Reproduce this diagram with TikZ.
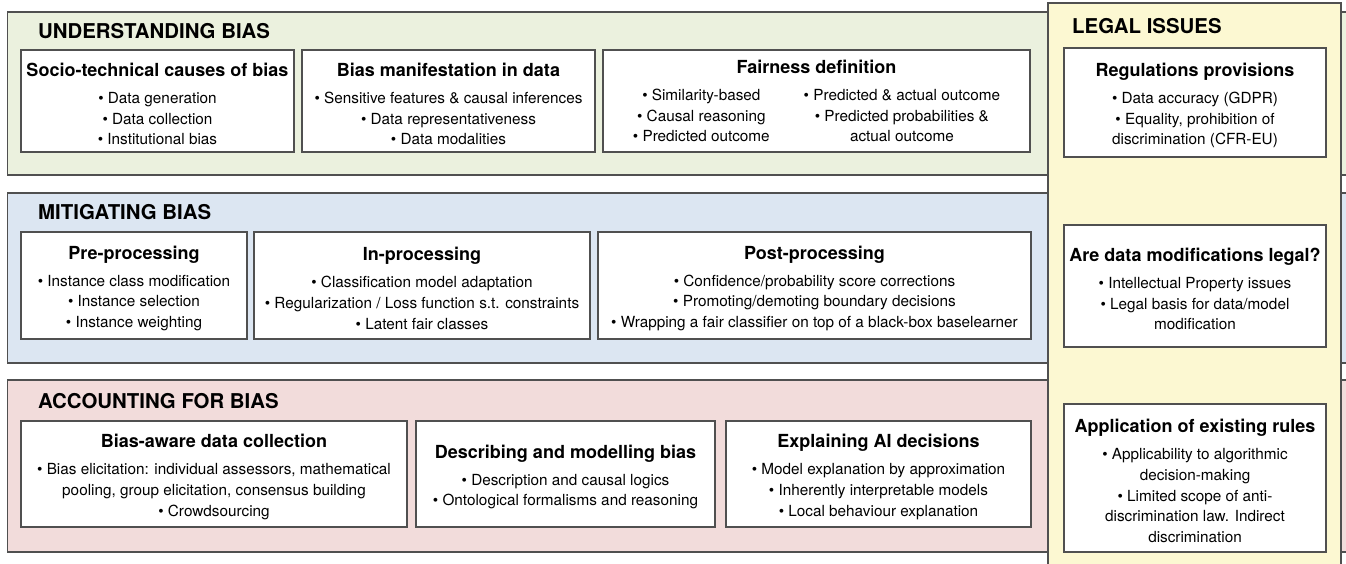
\documentclass[tikz,border=0pt]{standalone}
\usepackage{fontspec}
\setmainfont{TeX Gyre Heros}
\definecolor{undfill}{HTML}{EBF1DE}
\definecolor{mitfill}{HTML}{DCE6F2}
\definecolor{accfill}{HTML}{F2DCDB}
\definecolor{legfill}{HTML}{FCF8D2}
\definecolor{edgegray}{HTML}{505050}
\newcommand{\boxhead}[1]{{\bfseries\fontsize{18}{22}\selectfont\rule{0pt}{19.5pt}#1}\\[6pt]}
\begin{document}
\begin{tikzpicture}[x=1pt,y=-1pt,
  band/.style={draw=edgegray,line width=1.3pt},
  bandtitle/.style={anchor=west,inner sep=0pt,font=\bfseries\fontsize{20.4}{24}\selectfont},
  topic/.style={draw=edgegray,fill=white,line width=1.1pt,align=center,inner sep=0pt,
    font=\fontsize{15.3}{20.8}\selectfont}]
 \useasboundingbox (0,0) rectangle (1346,564);
 \clip (0,0) rectangle (1346,564);
 \draw[band,fill=undfill] (7.5,12) rectangle (1360,175);
 \draw[band,fill=mitfill] (7.5,193) rectangle (1360,363);
 \draw[band,fill=accfill] (7.5,380) rectangle (1360,552);
 \draw[band,fill=legfill] (1048,3) rectangle (1341,580);
 \node[bandtitle] (understanding) at (38,31) {UNDERSTANDING BIAS};
 \node[bandtitle] (mitigating) at (38,212) {MITIGATING BIAS};
 \node[bandtitle] (accounting) at (38,401) {ACCOUNTING FOR BIAS};
 \node[bandtitle] (legal) at (1072,26) {LEGAL ISSUES};
 \node[topic,minimum width=273,minimum height=102] (causes) at (157.5,101)
  {\boxhead{Socio-technical causes of bias}\textbullet\ Data generation\\\textbullet\ Data collection\\\textbullet\ Institutional bias};
 \node[topic,minimum width=293,minimum height=102] (manifest) at (448.5,101)
  {\boxhead{Bias manifestation in data}\textbullet\ Sensitive features \& causal inferences\\\textbullet\ Data representativeness\\\textbullet\ Data modalities};
 \node[topic,minimum width=427,minimum height=102] (fairness) at (816.5,101)
  {\boxhead{Fairness definition}\begin{tabular}[t]{@{}c@{\hspace{34pt}}c@{}}
  \textbullet\ Similarity-based & \textbullet\ Predicted \& actual outcome\\
  \textbullet\ Causal reasoning & \textbullet\ Predicted probabilities \&\\
  \textbullet\ Predicted outcome & actual outcome
  \end{tabular}};
 \node[topic,minimum width=262,minimum height=109] (regulations) at (1195,102.5)
  {\boxhead{Regulations provisions}\textbullet\ Data accuracy (GDPR)\\\textbullet\ Equality, prohibition of\\discrimination (CFR-EU)};
 \node[topic,minimum width=226,minimum height=107] (preproc) at (134,285.5)
  {\boxhead{Pre-processing}\textbullet\ Instance class modification\\\textbullet\ Instance selection\\\textbullet\ Instance weighting};
 \node[topic,minimum width=336,minimum height=107] (inproc) at (422,285.5)
  {\boxhead{In-processing}\textbullet\ Classification model adaptation\\\textbullet\ Regularization / Loss function s.t. constraints\\\textbullet\ Latent fair classes};
 \node[topic,minimum width=433,minimum height=107] (postproc) at (814.5,285.5)
  {\boxhead{Post-processing}\textbullet\ Confidence/probability score corrections\\\textbullet\ Promoting/demoting boundary decisions\\\textbullet\ Wrapping a fair classifier on top of a black-box baselearner};
 \node[topic,minimum width=262,minimum height=122] (modlegal) at (1195,286)
  {\boxhead{Are data modifications legal?}\textbullet\ Intellectual Property issues\\\textbullet\ Legal basis for data/model\\modification};
 \node[topic,minimum width=386,minimum height=106] (awaredata) at (214,474)
  {\boxhead{Bias-aware data collection}\textbullet\ Bias elicitation: individual assessors, mathematical\\pooling, group elicitation, consensus building\\\textbullet\ Crowdsourcing};
 \node[topic,minimum width=299,minimum height=106] (describing) at (565.5,474)
  {\boxhead{Describing and modelling bias}\textbullet\ Description and causal logics\\\textbullet\ Ontological formalisms and reasoning};
 \node[topic,minimum width=305,minimum height=106] (explaining) at (878.5,474)
  {\boxhead{Explaining AI decisions}\textbullet\ Model explanation by approximation\\\textbullet\ Inherently interpretable models\\\textbullet\ Local behaviour explanation};
 \node[topic,minimum width=262,minimum height=148] (rules) at (1195,478)
  {\boxhead{Application of existing rules}\textbullet\ Applicability to algorithmic\\decision-making\\\textbullet\ Limited scope of anti-\\discrimination law. Indirect\\discrimination};
\end{tikzpicture}
\end{document}
